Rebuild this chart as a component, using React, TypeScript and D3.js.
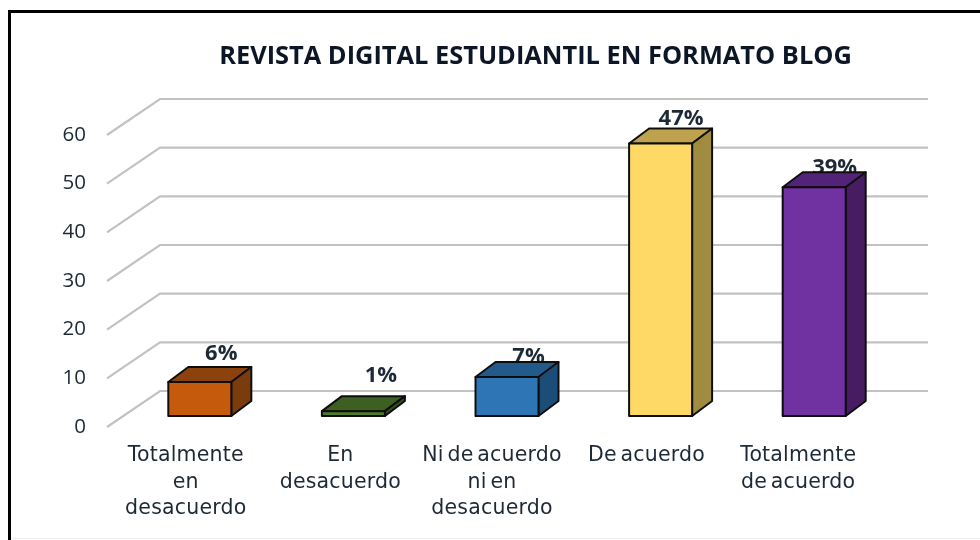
import React from "react";
import * as d3 from "d3";

const title = "REVISTA DIGITAL ESTUDIANTIL EN FORMATO BLOG";
const categories = ["Totalmente en desacuerdo", "En desacuerdo", "Ni de acuerdo ni en desacuerdo", "De acuerdo", "Totalmente de acuerdo"];
const categoryLines = [
  ["Totalmente", "en", "desacuerdo"],
  ["En", "desacuerdo"],
  ["Ni de acuerdo", "ni en", "desacuerdo"],
  ["De acuerdo"],
  ["Totalmente", "de acuerdo"],
];
const values = [7, 1, 8, 56, 47];
const percentLabels = ["6%", "1%", "7%", "47%", "39%"];
const yTicks = [0, 10, 20, 30, 40, 50, 60];
const frontColors = ["#c55a11", "#4f7a2c", "#2e75b6", "#ffd966", "#7030a0"];
const topColors = ["#8c430d", "#3d5f22", "#225a8c", "#bfa24d", "#522379"];
const sideColors = ["#7a3a0b", "#335020", "#1f4e79", "#a08c40", "#461e64"];
const labelLift = [7, 14, -1, 3, -2];
const labelShift = [53, 59, 53, 52, 52];
const categoryShift = [2, 3, 1, 2, 0];

const W = 980, H = 540;
const x0 = 107, x1 = 875, depthX = 53, depthY = 36;
const y = d3.scaleLinear().domain([0, 60]).range([427, 135]);
const band = d3.scaleBand<string>().domain(categories).range([x0, x1]);
const barW = 63, barDX = 20, barDY = 15, planeDX = 16, planeDY = 11;
const poly = (p: number[][]) => p.map((q) => q.join(",")).join(" ");

export default function App() {
  const step = band.bandwidth();
  return (
    <svg width={W} height={H} style={{ position: "fixed", left: 0, top: 0, background: "#fff" }}>
      <defs>
        <filter id="soft" x="-5%" y="-20%" width="110%" height="140%">
          <feGaussianBlur stdDeviation="0.45" />
        </filter>
      </defs>
      <rect x={0} y={0} width={W} height={H} fill="#fff" />
      <line x1={9.5} y1={11} x2={9.5} y2={H} stroke="#000" strokeWidth={3} />
      <line x1={8} y1={11.5} x2={W} y2={11.5} stroke="#000" strokeWidth={3} />
      <line x1={11} y1={538.5} x2={W} y2={538.5} stroke="#eeeeee" strokeWidth={1} />
      <text x={535.5} y={64} textAnchor="middle" fontFamily="'Open Sans', 'Noto Sans', sans-serif" fontWeight={700} fontSize={25.4} fill="#111827" filter="url(#soft)">
        {title}
      </text>
      <g fill="none" stroke="#c2c2c2" strokeWidth={2.2} filter="url(#soft)">
        {yTicks.map((t) => (
          <polyline key={t} points={poly([[x0, y(t)], [x0 + depthX, y(t) - depthY], [x1 + depthX, y(t) - depthY]])} />
        ))}
      </g>
      <g fontFamily="'Open Sans', 'Noto Sans', sans-serif" fontSize={20.5} fill="#1f2937" textAnchor="end" filter="url(#soft)">
        {yTicks.map((t) => (
          <text key={t} x={86} y={y(t) + 5.5}>{t}</text>
        ))}
      </g>
      <g fontFamily="'Open Sans', 'Noto Sans', sans-serif" fontWeight={700} fontSize={22} fill="#1f2937" textAnchor="middle" filter="url(#soft)">
        {categories.map((c, i) => {
          const left = band(c)! + step / 2 - barW / 2 + planeDX;
          const top = y(values[i]) - planeDY - barDY;
          return <text key={c} x={left + labelShift[i]} y={top - labelLift[i]}>{percentLabels[i]}</text>;
        })}
      </g>
      <g stroke="#111" strokeWidth={2} strokeLinejoin="round" filter="url(#soft)">
        {categories.map((c, i) => {
          const l = band(c)! + step / 2 - barW / 2 + planeDX;
          const r = l + barW;
          const b = y(0) - planeDY;
          const t = y(values[i]) - planeDY;
          return (
            <g key={c}>
              <polygon fill={topColors[i]} points={poly([[l, t], [l + barDX, t - barDY], [r + barDX, t - barDY], [r, t]])} />
              <polygon fill={sideColors[i]} points={poly([[r, t], [r + barDX, t - barDY], [r + barDX, b - barDY], [r, b]])} />
              <rect fill={frontColors[i]} x={l} y={t} width={barW} height={b - t} />
            </g>
          );
        })}
      </g>
      <g fontFamily="'DejaVu Sans', 'Open Sans', sans-serif" fontSize={20.5} letterSpacing={0.2} wordSpacing={-3} fill="#1f2937" textAnchor="middle" filter="url(#soft)">
        {categories.map((c, i) => (
          <text key={c}>
            {categoryLines[i].map((line, k) => (
              <tspan key={k} x={band(c)! + step / 2 + categoryShift[i]} y={461 + k * 26.5}>{line}</tspan>
            ))}
          </text>
        ))}
      </g>
    </svg>
  );
}
